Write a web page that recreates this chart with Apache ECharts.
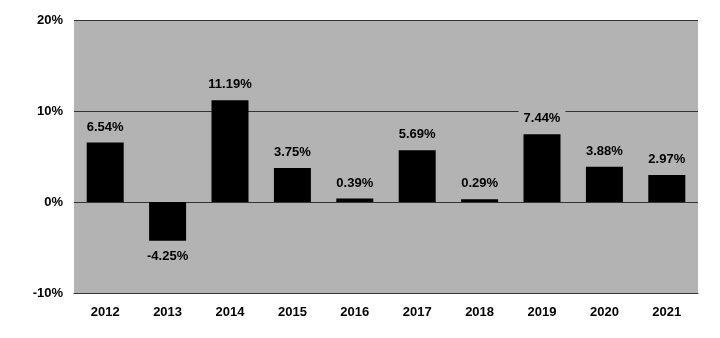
<!DOCTYPE html>
<html><head><meta charset="utf-8">
<script src="https://cdn.jsdelivr.net/npm/echarts@6/dist/echarts.min.js"></script>
<style>html,body{margin:0;padding:0;background:#fff}#c{width:720px;height:338px}</style>
</head><body><div id="c"></div>
<script>
const categories = ['2012','2013','2014','2015','2016','2017','2018','2019','2020','2021'];
const values = [6.54, -4.25, 11.19, 3.75, 0.39, 5.69, 0.29, 7.44, 3.88, 2.97];
const yTicks = [-10, 0, 10, 20];

const chart = echarts.init(document.getElementById('c'));
const font = '"Liberation Sans", Arial, sans-serif';
chart.setOption({
  animation: false,
  grid: {left: 74, right: 22, top: 20, bottom: 45, show: true, backgroundColor: '#b3b3b3', borderWidth: 0},
  xAxis: {
    type: 'category', data: categories,
    axisLine: {show: true, onZero: false, lineStyle: {color: '#333', width: 1}},
    axisTick: {show: false},
    axisLabel: {color: '#000', fontFamily: font, fontWeight: 'bold', fontSize: 13, margin: 13}
  },
  yAxis: {
    type: 'value', min: yTicks[0], max: yTicks[yTicks.length - 1], interval: 10,
    axisLine: {show: false}, axisTick: {show: false},
    splitLine: {lineStyle: {color: '#333', width: 1}},
    axisLabel: {color: '#000', fontFamily: font, fontWeight: 'bold', fontSize: 13, margin: 11, formatter: '{value}%'}
  },
  series: [{
    type: 'bar', barWidth: 37,
    itemStyle: {color: '#000'},
    data: values.map(v => ({
      value: v,
      label: {position: v >= 0 ? 'top' : 'bottom'}
    })),
    label: {
      show: true, color: '#000', fontFamily: font, fontWeight: 'bold', fontSize: 13,
      distance: 7, backgroundColor: '#b3b3b3', padding: [2, 5],
      formatter: p => p.value.toFixed(2) + '%'
    }
  }]
});
</script></body></html>
